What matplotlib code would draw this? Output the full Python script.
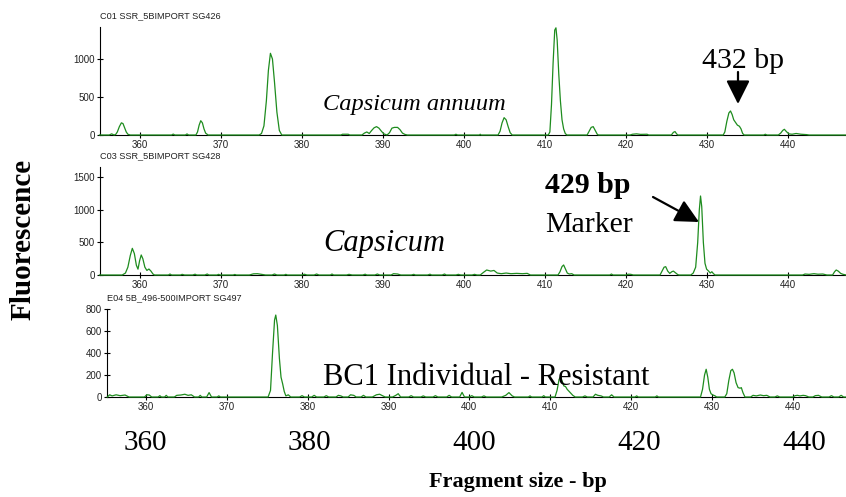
import matplotlib
matplotlib.use("Agg")
import matplotlib.pyplot as plt
from matplotlib.patches import FancyArrowPatch

plt.rcParams['font.family'] = ['Liberation Sans', 'DejaVu Sans']

W, H = 846, 497
GREEN = '#1e8c1e'

# ---------------- data (fragment size bp, fluorescence) ----------------
titles = ["C01 SSR_5BIMPORT SG426", "C03 SSR_5BIMPORT SG428", "E04 5B_496-500IMPORT SG497"]

p1_x = [355.0, 356.2, 356.5, 356.8, 357.0, 357.2, 357.45, 357.7, 357.9, 358.1, 358.3, 358.5, 358.8,
        363.9, 364.1, 364.3, 365.6, 365.8, 366.0,
        366.9, 367.1, 367.3, 367.5, 367.7, 367.9, 368.1, 368.4,
        374.7, 375.0, 375.3, 375.6, 375.85, 376.1, 376.35, 376.6, 376.9, 377.2, 377.5,
        384.8, 385.0, 385.7, 385.9,
        387.4, 387.7, 388.0, 388.3, 388.6, 388.9, 389.2, 389.5, 389.8, 390.1, 390.5,
        390.8, 391.1, 391.4, 391.8, 392.1, 392.4, 392.7, 393.0,
        398.8, 399.0, 399.2, 401.9, 402.0, 402.1,
        404.2, 404.45, 404.7, 404.95, 405.2, 405.45, 405.7, 405.95,
        410.4, 410.6, 410.8, 411.0, 411.2, 411.35, 411.5, 411.7, 411.9, 412.1, 412.3, 412.5, 412.7,
        415.2, 415.45, 415.7, 415.95, 416.2, 416.45, 416.6,
        420.5, 420.8, 421.3, 421.8, 422.6, 422.8,
        425.6, 425.85, 426.05, 426.25, 426.4,
        432.0, 432.2, 432.45, 432.7, 432.9, 433.1, 433.3, 433.5, 433.75, 434.0, 434.2, 434.4, 434.6,
        437.0, 437.2, 437.4,
        438.8, 439.1, 439.35, 439.55, 439.8, 440.1, 440.5, 441.0, 441.6, 442.3, 442.6,
        447.2]
p1_y = [0, 0, 15, 0, 8, 40, 110, 160, 150, 95, 40, 10, 0,
        0, 12, 0, 0, 14, 0,
        0, 40, 130, 188, 160, 80, 25, 0,
        0, 20, 120, 450, 850, 1075, 1000, 700, 300, 60, 0,
        0, 10, 10, 0,
        0, 25, 40, 20, 60, 95, 110, 90, 50, 15, 0,
        30, 90, 100, 100, 70, 25, 8, 0,
        0, 10, 0, 0, 10, 0,
        0, 50, 160, 228, 200, 110, 30, 0,
        0, 40, 400, 950, 1380, 1410, 1250, 800, 450, 200, 80, 20, 0,
        0, 50, 100, 110, 60, 10, 0,
        0, 10, 15, 8, 10, 0,
        0, 35, 45, 15, 0,
        0, 40, 180, 290, 316, 270, 200, 170, 130, 115, 80, 20, 0,
        0, 10, 0,
        0, 25, 60, 75, 45, 15, 10, 20, 10, 5, 0,
        0]

p2_x = [355.0, 357.8, 358.2, 358.5, 358.8, 359.05, 359.3, 359.55, 359.75, 359.95, 360.15, 360.35,
        360.6, 360.85, 361.1, 361.35, 361.6, 361.8,
        363.5, 363.7, 363.9, 365.0, 365.2, 365.5, 366.5, 366.8, 367.0, 368.0, 368.3, 368.5,
        369.5, 369.7, 369.9, 371.5, 371.7, 371.9, 373.5, 374.0, 374.5, 375.0, 375.5,
        376.3, 376.6, 376.9, 377.8, 378.0, 378.2,
        380.0, 380.3, 380.6, 381.5, 381.8, 382.1, 383.5, 383.7, 383.9, 385.5, 385.8, 386.2,
        387.5, 387.8, 388.0, 389.0, 389.3, 389.6, 391.0, 391.3, 391.8, 392.2,
        393.5, 393.8, 394.0, 395.5, 395.8, 396.0, 397.3, 397.6, 397.8, 399.0, 399.3, 399.6,
        401.0, 401.3, 401.6, 402.0, 402.4, 402.8, 403.3, 403.7, 404.1, 404.6, 405.2, 405.8,
        406.5, 407.2, 407.8, 408.2,
        411.6, 411.85, 412.1, 412.3, 412.5, 412.75, 413.0, 413.3, 413.6,
        418.0, 418.2, 418.4, 420.0, 420.3, 420.6, 420.9,
        424.2, 424.45, 424.7, 424.9, 425.15, 425.4, 425.65, 425.85, 426.1, 426.4, 426.6,
        428.0, 428.3, 428.6, 428.85, 429.05, 429.2, 429.35, 429.55, 429.75, 429.95, 430.2,
        430.4, 430.6, 430.8, 431.0,
        441.8, 442.1, 442.6, 443.2, 443.7, 444.3, 444.8,
        445.5, 445.75, 445.95, 446.2, 446.5, 446.8, 447.2]
p2_y = [0, 0, 30, 120, 300, 410, 330, 150, 90, 220, 308, 250,
        120, 70, 92, 60, 15, 0,
        0, 15, 0, 0, 10, 0, 0, 12, 0, 0, 15, 0,
        0, 10, 0, 0, 8, 0, 0, 18, 20, 10, 0,
        0, 15, 0, 0, 10, 0,
        0, 12, 0, 0, 15, 0, 0, 15, 0, 0, 10, 0,
        0, 12, 0, 0, 15, 0, 0, 20, 15, 0,
        0, 10, 0, 0, 12, 0, 0, 15, 0, 0, 10, 0,
        0, 10, 0, 0, 40, 77, 60, 70, 30, 20, 30, 20,
        25, 20, 25, 0,
        0, 50, 130, 154, 100, 30, 15, 20, 0,
        0, 15, 0, 0, 12, 10, 0,
        0, 60, 120, 128, 60, 25, 50, 60, 35, 5, 0,
        0, 30, 120, 500, 1000, 1215, 1050, 500, 180, 90, 60,
        30, 50, 20, 0,
        0, 15, 10, 20, 12, 15, 0,
        0, 50, 77, 60, 25, 10, 0]

p3_x = [355.2, 355.5, 355.8, 356.3, 356.8, 357.4, 357.9, 359.8, 360.1, 360.4, 360.7,
        361.5, 361.7, 361.9, 362.3, 362.5, 362.7, 363.5, 363.8, 364.3, 364.8, 365.2, 365.6, 366.0,
        366.5, 366.7, 366.9, 367.5, 367.8, 368.1, 368.8, 369.0, 369.2,
        375.1, 375.4, 375.65, 375.9, 376.05, 376.25, 376.5, 376.7, 376.9, 377.1, 377.3, 377.6, 377.9,
        379.0, 379.3, 379.6, 380.5, 380.8, 381.1, 382.0, 382.3, 382.6, 383.5, 383.8, 384.1, 384.4,
        385.0, 385.3, 385.7, 386.0, 386.6, 386.9, 387.2, 388.0, 388.5, 388.9, 389.3, 389.6,
        390.5, 390.9, 391.2, 391.5, 392.5, 392.8, 393.1, 394.0, 394.3, 394.6, 395.5, 395.8, 396.1,
        397.2, 397.5, 397.8, 398.8, 399.1, 399.4, 400.0, 400.3, 400.6, 401.5, 401.8, 402.1,
        404.0, 404.5, 404.9, 405.3, 405.6, 407.3, 407.5, 407.7, 409.0, 409.2, 409.4,
        410.6, 410.85, 411.1, 411.3, 411.5, 411.7, 411.9, 412.1, 412.35, 412.6, 412.8, 413.1,
        414.0, 414.3, 414.6, 415.3, 415.6, 415.9, 416.3, 416.6, 417.3, 417.6, 417.9,
        420.5, 420.7, 420.9, 423.0, 423.2, 423.4,
        428.6, 428.85, 429.1, 429.3, 429.5, 429.7, 429.9, 430.1, 430.4, 430.6,
        431.6, 431.85, 432.1, 432.35, 432.55, 432.75, 433.0, 433.25, 433.5, 433.65, 433.85, 434.1,
        434.8, 435.1, 435.5, 436.0, 436.4, 436.8, 437.2, 437.8, 438.1, 438.4,
        440.0, 440.3, 440.6, 440.9, 441.3, 441.6, 442.0, 442.5, 442.8, 443.2, 443.6,
        444.5, 444.8, 445.1, 445.7, 446.0, 446.3, 446.6]
p3_y = [0, 20, 10, 20, 12, 18, 0, 0, 20, 18, 0,
        0, 12, 0, 0, 15, 0, 0, 15, 18, 25, 15, 20, 0,
        0, 15, 0, 0, 40, 0, 0, 10, 0,
        0, 60, 400, 700, 745, 650, 350, 180, 120, 50, 10, 20, 0,
        0, 12, 0, 0, 15, 0, 0, 12, 0, 0, 15, 10, 0,
        0, 20, 15, 0, 0, 15, 0, 0, 20, 25, 10, 0,
        0, 15, 30, 0, 0, 12, 0, 0, 10, 0, 0, 12, 0,
        0, 15, 0, 0, 42, 0, 0, 12, 0, 0, 10, 0,
        0, 15, 40, 10, 0, 0, 10, 0, 0, 12, 0,
        0, 60, 160, 185, 140, 100, 95, 70, 50, 30, 15, 0,
        0, 10, 0, 0, 25, 15, 10, 0, 0, 20, 0,
        0, 10, 0, 0, 10, 0,
        0, 70, 200, 252, 180, 70, 30, 20, 10, 0,
        0, 30, 150, 240, 252, 220, 130, 85, 80, 85, 40, 0,
        0, 15, 10, 18, 12, 15, 0, 0, 10, 0,
        0, 12, 15, 10, 15, 12, 0, 0, 12, 15, 0,
        0, 12, 0, 0, 15, 0, 0]

xticks_small = [360, 370, 380, 390, 400, 410, 420, 430, 440]
yticks_1 = [0, 500, 1000]
yticks_2 = [0, 500, 1000, 1500]
yticks_3 = [0, 200, 400, 600, 800]
big_ticks = [360, 380, 400, 420, 440]

# ---------------- figure ----------------
fig = plt.figure(figsize=(W / 100, H / 100), dpi=100)


def box(left, top, right, bottom):
    return [left / W, 1 - bottom / H, (right - left) / W, (bottom - top) / H]


def style(ax, yticks):
    for s in ['top', 'right']:
        ax.spines[s].set_visible(False)
    for s in ['left', 'bottom']:
        ax.spines[s].set_linewidth(0.8)
        ax.spines[s].set_color('black')
    ax.set_xticks(xticks_small)
    ax.set_yticks(yticks)
    ax.tick_params(axis='both', direction='inout', length=4, width=0.8,
                   labelsize=7, labelcolor='#222222', pad=1.5)
    ax.patch.set_visible(False)


panels = [
    (box(100, 27, 846, 135), (355.06, 447.16), (0, 1421), p1_x, p1_y, yticks_1),
    (box(100, 167, 846, 275), (355.06, 447.16), (0, 1661), p2_x, p2_y, yticks_2),
    (box(107, 309, 846, 397), (355.17, 446.6), (0, 800), p3_x, p3_y, yticks_3),
]

for (rect, xl, yl, xs, ys, yt), ttl in zip(panels, titles):
    ax = fig.add_axes(rect)
    ax.plot(xs, ys, color=GREEN, lw=0.9, zorder=3, clip_on=False)
    ax.set_xlim(*xl)
    ax.set_ylim(*yl)
    style(ax, yt)
    ax.set_title(ttl, loc='left', fontsize=6.6, color='#222222', pad=6)

# big overlaid axis numbers (360 -> x=145 px, 440 -> x=804 px)
axb = fig.add_axes([103.8 / W, 1 - 430 / H, (845.2 - 103.8) / W, 0.0001])
axb.set_xlim(355, 445)
axb.set_xticks(big_ticks)
axb.set_xticklabels([str(t) for t in big_ticks], fontsize=21, family=['Liberation Serif'])
axb.tick_params(axis='x', length=0, pad=0)
axb.set_yticks([])
for s in axb.spines.values():
    s.set_visible(False)
axb.patch.set_visible(False)

serif = ['Liberation Serif', 'DejaVu Serif']


def ftext(px, py, s, **kw):
    fig.text(px / W, 1 - py / H, s, family=serif, **kw)


ftext(23, 239, "Fluorescence", fontsize=21, fontweight='bold', rotation=90,
      ha='center', va='center')
ftext(518, 487, "Fragment size - bp", fontsize=16, fontweight='bold',
      ha='center', va='baseline')

ftext(323, 110, "Capsicum annuum", fontsize=17.6, style='italic', ha='left', va='baseline')
ftext(702, 68, "432 bp", fontsize=21.5, ha='left', va='baseline')
ftext(545, 193, "429 bp", fontsize=21.5, fontweight='bold', ha='left', va='baseline')
ftext(545, 232, "Marker", fontsize=21.5, ha='left', va='baseline')
ftext(323, 251, "Capsicum", fontsize=22, style='italic', ha='left', va='baseline')
ftext(323, 385, "BC1 Individual - Resistant", fontsize=22, ha='left', va='baseline')

arrow_kw = dict(arrowstyle='-|>,head_length=0.9,head_width=0.45', color='black', lw=1.6,
                shrinkA=0, shrinkB=0, mutation_scale=16)
fig.add_artist(FancyArrowPatch((738 / W, 1 - 72 / H), (738 / W, 1 - 104 / H),
                               transform=fig.transFigure, **arrow_kw))
fig.add_artist(FancyArrowPatch((653 / W, 1 - 197 / H), (699 / W, 1 - 222 / H),
                               transform=fig.transFigure, **arrow_kw))

fig.savefig("out.png", dpi=100)
